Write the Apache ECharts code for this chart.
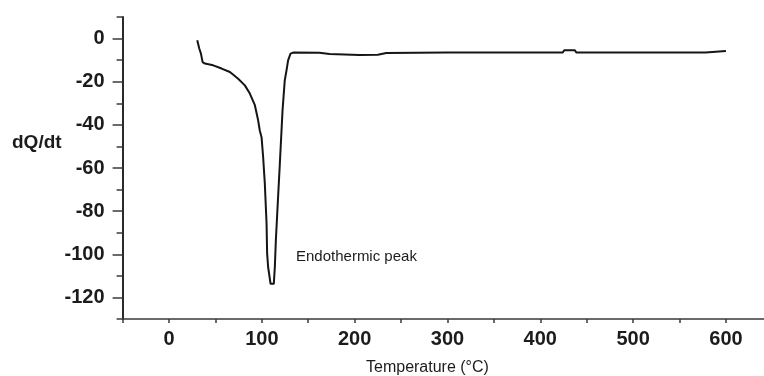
<!DOCTYPE html>
<html>
<head>
<meta charset="utf-8">
<script src="https://cdn.jsdelivr.net/npm/echarts@6/dist/echarts.min.js"></script>
<style>
html,body{margin:0;padding:0;background:#fff;}
#chart{width:764px;height:376px;}
</style>
</head>
<body>
<div id="chart"></div>
<script>
// Temperature (°C)
var temps = [30.4, 32.6, 34.4, 36.2, 38.7, 47.6, 56.7, 65.6, 74.5, 81.7, 87.1, 92.5, 96.0,
  97.8, 99.7, 101.4, 103.2, 105.1, 105.7, 106.8, 107.8, 109.4, 110.4, 112.9,
  114.0, 115.1, 117.5, 119.4, 122.3, 124.7, 126.6, 128.3, 130.9, 133.7,
  162, 173, 205, 225, 234, 300, 424, 426, 437, 439, 520, 578, 580, 600];
// dQ/dt
var dqdt = [-0.8, -4.6, -7.0, -10.9, -11.6, -12.4, -13.9, -15.5, -18.6, -21.7, -25.5, -30.9, -37.9,
  -42.6, -45.7, -54.9, -67.1, -85.8, -99.6, -106.0, -108.9, -113.7, -114.0, -113.7,
  -106.0, -93.6, -73.5, -58.0, -33.3, -19.4, -14.7, -10.1, -7.0, -6.5,
  -6.6, -7.2, -7.6, -7.5, -6.7, -6.5, -6.5, -5.4, -5.4, -6.5, -6.5, -6.4, -5.8, -5.8];

var xTickLabels = [0, 100, 200, 300, 400, 500, 600];
var yTickLabels = [0, -20, -40, -60, -80, -100, -120];

var pts = temps.map(function (t, i) { return [t, dqdt[i]]; });

var chart = echarts.init(document.getElementById('chart'), null, {renderer: 'canvas'});
var txt = '#1c1c1c';
var font = 'Liberation Sans, Arial, sans-serif';

chart.setOption({
  backgroundColor: '#ffffff',
  animation: false,
  grid: [
    {left: 122.6, right: 0, top: 17, bottom: 57},
    {left: 122.6, right: 0, top: 38.57, bottom: 376 - 297.4}
  ],
  xAxis: [
    {
      type: 'value', gridIndex: 0, min: -50, max: 641, interval: 50,
      splitLine: {show: false},
      axisLine: {show: true, onZero: false, lineStyle: {color: '#3a3a3a', width: 1.5}},
      axisTick: {show: true, length: 4, lineStyle: {color: '#3a3a3a', width: 1.5}},
      axisLabel: {
        margin: 10, color: txt, fontSize: 20, fontWeight: 'bold', fontFamily: font,
        showMaxLabel: false,
        formatter: function (v) { return xTickLabels.indexOf(v) >= 0 ? String(v) : ''; }
      }
    },
    {type: 'value', gridIndex: 1, min: 0, max: 1, show: false}
  ],
  yAxis: [
    {
      type: 'value', gridIndex: 0, min: -130, max: 10, interval: 10,
      splitLine: {show: false},
      axisLine: {show: true, onZero: false, lineStyle: {color: '#2a2a2a', width: 2}},
      axisTick: {show: true, length: 6, lineStyle: {color: '#3a3a3a', width: 1.5}},
      axisLabel: {show: false}
    },
    {
      type: 'value', gridIndex: 1, min: -120, max: 0, interval: 20,
      splitLine: {show: false},
      axisLine: {show: false},
      axisTick: {show: true, length: 10, lineStyle: {color: '#3a3a3a', width: 1.5}},
      axisLabel: {
        margin: 18, color: txt, fontSize: 20, fontWeight: 'bold', fontFamily: font,
        formatter: function (v) { return yTickLabels.indexOf(v) >= 0 ? String(v) : ''; }
      }
    }
  ],
  series: [{
    type: 'line', xAxisIndex: 0, yAxisIndex: 0,
    data: pts, showSymbol: false, symbol: 'none', smooth: false,
    lineStyle: {color: '#151515', width: 2}
  }],
  graphic: [
    {type: 'text', left: 12, top: 133,
     style: {text: 'dQ/dt', fill: txt, font: 'bold 19px ' + font}},
    {type: 'text', left: 296, top: 249,
     style: {text: 'Endothermic peak', fill: txt, font: '15px ' + font}},
    {type: 'text', left: 366, top: 360,
     style: {text: 'Temperature (°C)', fill: txt, font: '16px ' + font}}
  ]
});
</script>
</body>
</html>
